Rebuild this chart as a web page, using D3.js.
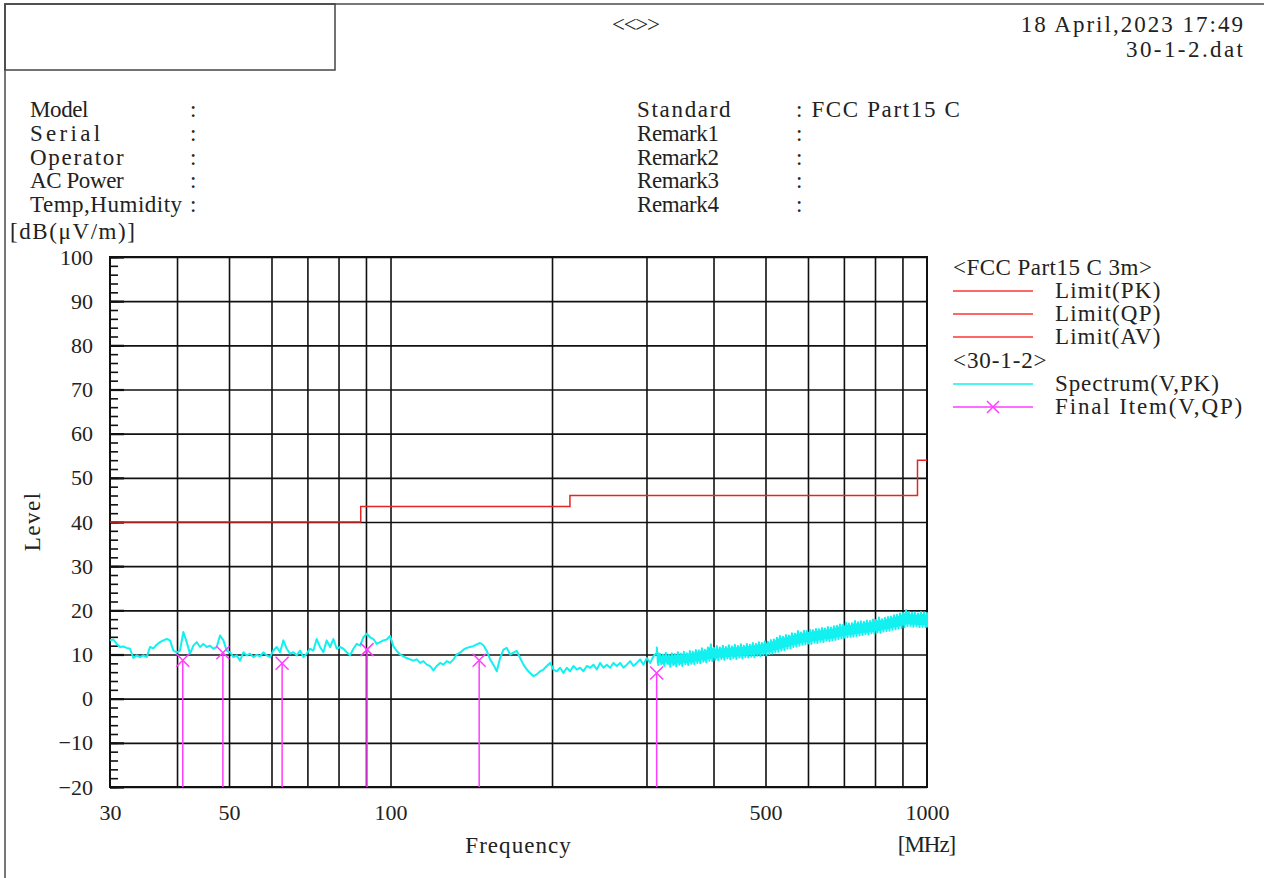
<!DOCTYPE html>
<html>
<head>
<meta charset="utf-8">
<script src="https://cdn.jsdelivr.net/npm/d3@7"></script>
<style>
  body { margin: 0; background: #fff; }
  text { fill: #222; }
  .mono { font-family: "Liberation Serif", serif; font-size: 23px; }
</style>
</head>
<body>
<svg width="1264" height="878"></svg>
<script>
const width = 1264;
const height = 878;
const margin = {left: 110, top: 257, right: 927, bottom: 787};
const charW = 11.7;

// info block
const infoLeft = ["Model", "Serial", "Operator", "AC Power", "Temp,Humidity"];
const infoRight = ["Standard", "Remark1", "Remark2", "Remark3", "Remark4"];
const infoRightValues = ["FCC Part15 C", "", "", "", ""];

// axes
const yTicks = [100, 90, 80, 70, 60, 50, 40, 30, 20, 10, 0, -10, -20];
const xLabels = [30, 50, 100, 500, 1000];
const xGrid = [40, 50, 60, 70, 80, 90, 100, 200, 300, 400, 500, 600, 700, 800, 900];

// FCC Part15 C 3m limit steps (MHz, dB)
const limitFreq = [30, 88, 88, 216, 216, 960, 960, 1000];
const limitLevel = [40, 40, 43.5, 43.5, 46, 46, 54, 54];

// spectrum 30 - 313.6 MHz
const specAStart = 30, specAStop = 313.6;
const specA = [
  13.2, 13.4, 12.4, 11.7, 11.8, 11.5, 11.3, 9.2, 9.8, 9.4,
  9.8, 9.4, 11.7, 11.4, 12.2, 12.8, 13.2, 13.5, 13.2, 10.9,
  10.5, 10.9, 15.1, 12.8, 10.2, 12.0, 12.8, 11.7, 12.4, 11.7,
  12.0, 11.3, 11.7, 14.3, 13.2, 10.9, 10.5, 9.4, 9.8, 8.6,
  10.5, 9.8, 10.2, 9.4, 9.9, 9.6, 10.5, 9.8, 9.4, 10.9,
  11.7, 10.5, 13.2, 11.3, 10.2, 10.5, 9.8, 10.9, 9.4, 10.2,
  11.3, 10.9, 13.5, 11.7, 10.5, 13.2, 11.7, 13.5, 11.3, 11.7,
  11.3, 10.5, 9.8, 11.3, 12.4, 12.0, 13.9, 14.7, 13.9, 13.5,
  12.4, 12.8, 13.2,
  13.4, 14.2, 11.9, 10.8, 10.0, 9.6, 9.2, 8.9, 8.6, 8.9,
  8.1, 8.5, 7.7, 7.4, 6.4, 7.4, 8.1, 7.7, 8.5, 8.1,
  8.9, 10.0, 10.4, 11.1, 11.5, 11.7, 11.9, 12.3, 12.6, 12.1,
  10.8, 8.9, 7.7, 6.2, 9.2, 11.1, 11.5, 10.0, 10.4, 10.8,
  9.2, 7.7, 6.6, 5.8, 5.1, 5.5, 6.2, 6.6, 7.4, 8.1,
  6.6, 6.2, 7.0, 5.8, 7.0, 6.2, 7.4, 6.6, 7.0, 6.2,
  7.4, 7.0, 7.7, 6.6, 8.1, 7.0, 7.7, 7.0, 8.1, 7.4,
  8.1, 7.0, 7.7, 8.5, 7.4, 8.1, 8.9, 7.7, 9.2, 8.1,
  9.6, 10.4
];

// spectrum 313.6 - 1000 MHz, dense sweep: top / bottom of the band per bin
const specBStart = 313.6, specBStop = 1000;
const specBHigh = [
  11.6, 10.2, 10.0, 10.4, 9.9, 10.3, 10.1, 10.5, 10.2, 10.6,
  10.3, 10.8, 10.6, 11.0, 10.9, 11.4, 11.1, 11.6, 12.3, 11.5,
  11.9, 11.6, 12.0, 11.7, 12.1, 11.8, 12.2, 11.9, 12.3, 12.0,
  12.4, 12.2, 12.6, 12.4, 12.8, 12.6, 13.0, 12.9, 13.3, 13.4,
  13.8, 14.2, 14.0, 14.4, 14.3, 14.8, 14.7, 15.3, 15.0, 15.4,
  15.3, 15.6, 15.5, 15.8, 15.7, 16.0, 15.9, 16.2, 16.1, 16.4,
  16.5, 16.8, 16.7, 17.2, 17.0, 17.1, 17.6, 17.3, 17.5, 17.4,
  17.7, 17.6, 17.9, 17.8, 18.4, 18.0, 18.3, 18.5, 18.6, 18.9,
  19.0, 19.3, 19.4, 20.1, 19.6, 19.4, 19.5, 19.3, 19.6, 19.5,
  19.4
];
const specBLow = [
  7.6, 7.8, 7.4, 7.9, 7.2, 7.6, 7.3, 7.7, 7.4, 7.8,
  7.6, 7.9, 7.8, 8.1, 8.0, 8.4, 8.2, 8.6, 8.5, 8.8,
  8.7, 9.0, 8.8, 9.1, 8.9, 9.2, 9.0, 9.3, 9.1, 9.4,
  9.3, 9.5, 9.4, 9.7, 9.6, 9.9, 9.8, 10.1, 10.2, 10.5,
  10.6, 10.9, 11.0, 11.3, 11.4, 11.7, 11.8, 12.0, 12.2, 12.3,
  12.5, 12.4, 12.7, 12.6, 12.9, 12.8, 13.1, 13.0, 13.2, 13.3,
  13.5, 13.6, 13.8, 13.9, 14.0, 14.1, 14.2, 14.3, 14.4, 14.6,
  14.5, 14.8, 14.7, 15.0, 14.9, 15.2, 15.3, 15.4, 15.6, 15.7,
  15.9, 16.0, 16.2, 16.4, 16.5, 16.3, 16.4, 16.2, 16.3, 16.2,
  16.1
];

// final items (QP)
const finalFreq = [41.0, 48.7, 62.8, 90.4, 146.3, 313.4];
const finalLevel = [8.7, 10.4, 8.0, 11.1, 8.7, 5.8];

const red = "#e02626";
const cyan = "#12f0f0";
const magenta = "#ff3cff";

const svg = d3.select("svg");

// fixed-pitch text like the printout
function mono(parent, xPos, yPos, str, anchor, len) {
  return parent.append("text").classed("mono", true)
    .attr("x", xPos).attr("y", yPos)
    .attr("text-anchor", anchor || "start")
    .attr("textLength", len || str.length * charW)
    .attr("lengthAdjust", "spacing")
    .text(str);
}

// page frame
svg.append("path")
  .attr("d", `M5,${height} L5,4 L${width},4`)
  .attr("fill", "none")
  .attr("stroke", "#777")
  .attr("stroke-width", 2);
svg.append("rect")
  .attr("x", 5).attr("y", 4)
  .attr("width", 330).attr("height", 66)
  .attr("fill", "none")
  .attr("stroke", "#444")
  .attr("stroke-width", 1.5);

mono(svg, 612, 32, "<<>>", "start", 48);
mono(svg, 1243, 32, "18 April,2023 17:49", "end");
mono(svg, 1243, 57, "30-1-2.dat", "end");

const rowY = i => 117 + i * 23.8;

infoLeft.forEach((t, i) => {
  mono(svg, 30, rowY(i), t);
  mono(svg, 190, rowY(i), ":");
});
infoRight.forEach((t, i) => {
  mono(svg, 637, rowY(i), t);
  if (infoRightValues[i]) mono(svg, 796, rowY(i), ": " + infoRightValues[i]);
  else mono(svg, 796, rowY(i), ":");
});

// scales
const x = d3.scaleLog().domain([30, 1000]).range([margin.left, margin.right]);
const y = d3.scaleLinear().domain([-20, 100]).range([margin.bottom, margin.top]);

const plot = svg.append("g");

// grid
plot.append("g")
  .attr("transform", `translate(0,${margin.bottom})`)
  .call(d3.axisBottom(x).tickValues(xGrid).tickSize(-(margin.bottom - margin.top)).tickFormat(""))
  .call(g => g.select(".domain").remove())
  .call(g => g.selectAll("line").attr("stroke", "#111").attr("stroke-width", 1.6));

plot.append("g")
  .attr("transform", `translate(${margin.left},0)`)
  .call(d3.axisLeft(y).tickValues(yTicks).tickSize(-(margin.right - margin.left)).tickFormat(""))
  .call(g => g.select(".domain").remove())
  .call(g => g.selectAll("line").attr("stroke", "#111").attr("stroke-width", 1.6));

// minor ticks on the level axis every 2 dB
plot.append("g")
  .attr("transform", `translate(${margin.left},0)`)
  .call(d3.axisRight(y).tickValues(d3.range(-20, 101, 2)).tickSize(8).tickFormat(""))
  .call(g => g.select(".domain").remove())
  .call(g => g.selectAll("line").attr("stroke", "#111").attr("stroke-width", 1.6));
plot.append("g")
  .attr("transform", `translate(${margin.left},0)`)
  .call(d3.axisRight(y).tickValues(yTicks).tickSize(14).tickFormat(""))
  .call(g => g.select(".domain").remove())
  .call(g => g.selectAll("line").attr("stroke", "#111").attr("stroke-width", 2.2));

// frame
plot.append("rect")
  .attr("x", margin.left).attr("y", margin.top)
  .attr("width", margin.right - margin.left)
  .attr("height", margin.bottom - margin.top)
  .attr("fill", "none")
  .attr("stroke", "#111")
  .attr("stroke-width", 2);

// tick labels
svg.append("g")
  .attr("transform", `translate(${margin.left - 14},0)`)
  .call(d3.axisLeft(y).tickValues(yTicks).tickSize(0)
    .tickFormat(d => d < 0 ? "\u2212" + Math.abs(d) : d))
  .call(g => g.select(".domain").remove())
  .call(g => g.selectAll("text")
    .attr("font-family", "Liberation Serif, serif")
    .attr("font-size", 22)
    .attr("fill", "#222"));

svg.append("g")
  .attr("transform", `translate(0,${margin.bottom + 14})`)
  .call(d3.axisBottom(x).tickValues(xLabels).tickSize(0).tickFormat(d3.format("d")))
  .call(g => g.select(".domain").remove())
  .call(g => g.selectAll("text")
    .attr("font-family", "Liberation Serif, serif")
    .attr("font-size", 22)
    .attr("fill", "#222"));

mono(svg, 518, 853, "Frequency", "middle");
mono(svg, 927, 852, "[MHz]", "middle");
mono(svg, 10, 239, "[dB(\u03bcV/m)]", "start", 125);
mono(svg, 0, 0, "Level", "middle")
  .attr("transform", "translate(40,522) rotate(-90)");

// limit line
const line = d3.line().x(d => x(d[0])).y(d => y(d[1]));
plot.append("path")
  .datum(d3.zip(limitFreq, limitLevel))
  .attr("d", line)
  .attr("fill", "none")
  .attr("stroke", red)
  .attr("stroke-width", 1.5);

// spectrum
const stepA = Math.log(specAStop / specAStart) / (specA.length - 1);
const specAPts = specA.map((v, i) => [specAStart * Math.exp(stepA * i), v]);
const stepB = Math.log(specBStop / specBStart) / (specBHigh.length - 1);
const specBFreq = specBHigh.map((v, i) => specBStart * Math.exp(stepB * i));
const specBPts = [];
specBFreq.forEach((f, i) => {
  specBPts.push([f, specBHigh[i]]);
  specBPts.push([Math.min(1000, f * Math.exp(stepB * 0.5)), specBLow[i]]);
});

// dense part of the sweep fills a band
plot.append("path")
  .datum(specBFreq.map((f, i) => [f, specBHigh[i], specBLow[i]]))
  .attr("d", d3.area()
    .x(d => x(d[0]))
    .y0(d => y(d[2] + 0.4))
    .y1(d => y(d[1] - 0.4)))
  .attr("fill", cyan);

plot.append("path")
  .datum(specAPts.concat(specBPts))
  .attr("d", line)
  .attr("fill", "none")
  .attr("stroke", cyan)
  .attr("stroke-width", 2)
  .attr("stroke-linejoin", "round");

// final items
const finals = plot.append("g");
d3.zip(finalFreq, finalLevel).forEach(([f, v]) => {
  const cx = x(f), cy = y(v);
  finals.append("line")
    .attr("x1", cx).attr("x2", cx)
    .attr("y1", cy).attr("y2", y(-20))
    .attr("stroke", magenta).attr("stroke-width", 1.5);
  finals.append("path")
    .attr("d", `M${cx - 6.5},${cy - 6.5}L${cx + 6.5},${cy + 6.5}M${cx - 6.5},${cy + 6.5}L${cx + 6.5},${cy - 6.5}`)
    .attr("stroke", magenta).attr("stroke-width", 1.5);
});

// legend
const legend = svg.append("g");
const legendItems = [
  {label: "Limit(PK)", color: "#ff3333", y: 291},
  {label: "Limit(QP)", color: "#ff3333", y: 314},
  {label: "Limit(AV)", color: "#ff3333", y: 337},
  {label: "Spectrum(V,PK)", color: cyan, y: 384},
  {label: "Final Item(V,QP)", color: magenta, y: 407, mark: true}
];
mono(legend, 953, 275, "<FCC Part15 C 3m>");
mono(legend, 953, 368, "<30-1-2>");
legendItems.forEach(d => {
  legend.append("line")
    .attr("x1", 953).attr("x2", 1033)
    .attr("y1", d.y).attr("y2", d.y)
    .attr("stroke", d.color).attr("stroke-width", 1.5);
  if (d.mark) {
    legend.append("path")
      .attr("d", `M987,${d.y - 6}L999,${d.y + 6}M987,${d.y + 6}L999,${d.y - 6}`)
      .attr("stroke", d.color).attr("stroke-width", 1.5);
  }
  mono(legend, 1055, d.y + 7, d.label);
});
</script>
</body>
</html>
